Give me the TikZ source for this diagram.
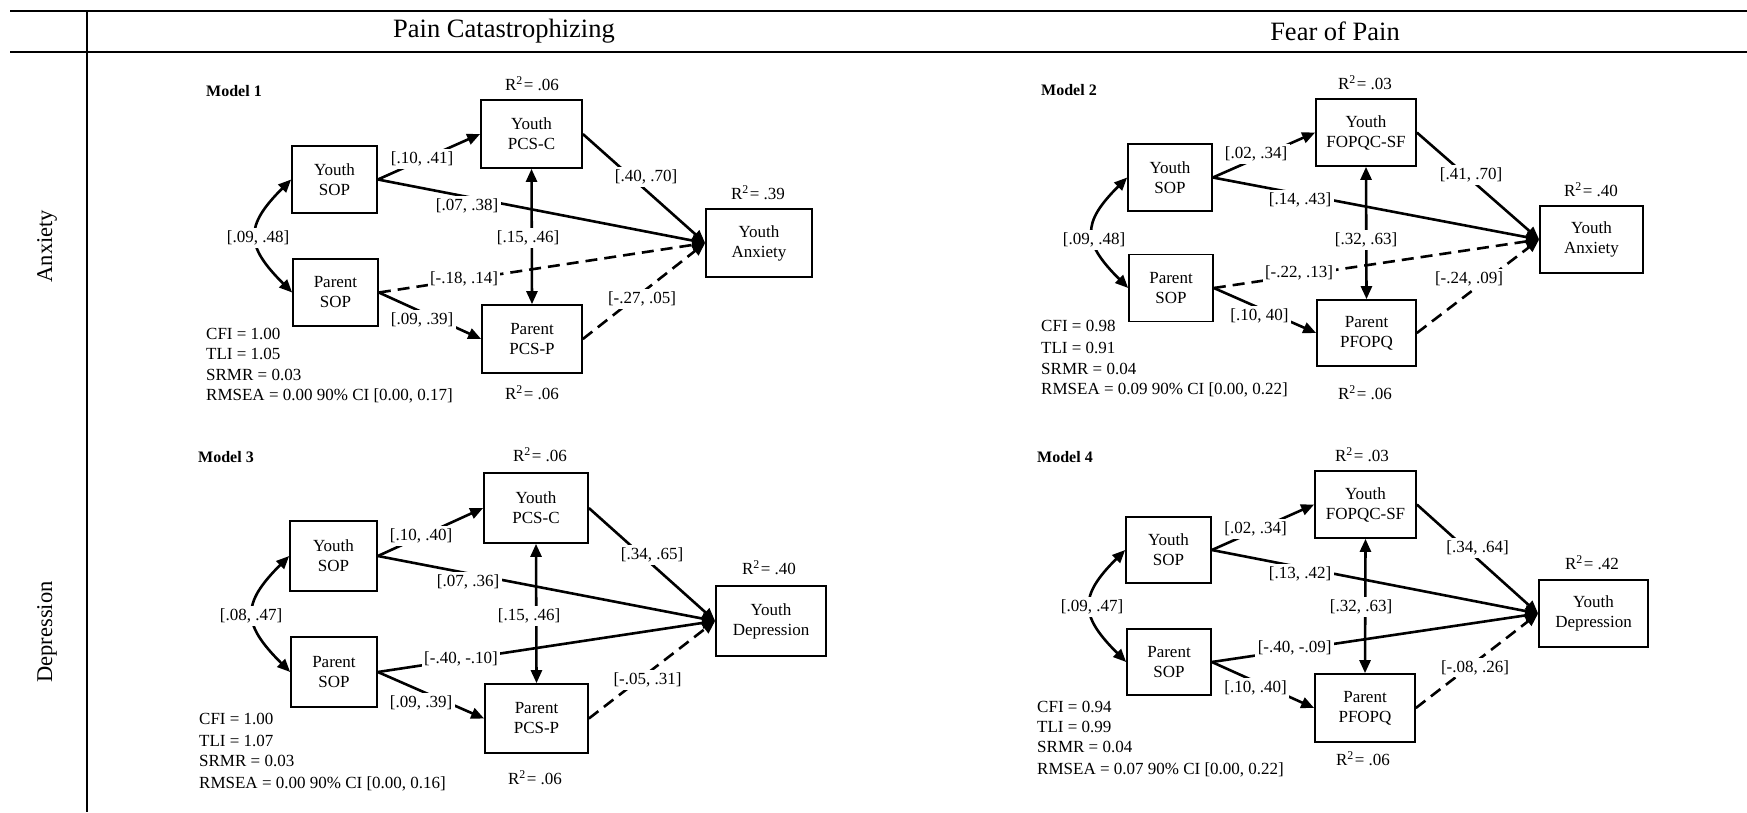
\documentclass[tikz,border=0pt]{standalone}
\usepackage{fontspec}
\setmainfont{Liberation Serif}
\usetikzlibrary{arrows.meta}
\begin{document}
\begin{tikzpicture}[x=1pt,y=1pt,
  bx/.style={draw, line width=1.7pt, align=center, inner sep=0pt, font=\fontsize{17}{20}\selectfont},
  lbl/.style={fill=white, inner sep=2.5pt, font=\fontsize{17}{20}\selectfont},
  rsq/.style={font=\fontsize{17}{20}\selectfont, inner sep=0pt},
  mdl/.style={font=\fontsize{16}{20}\selectfont\bfseries, anchor=west, inner sep=0pt},
  fitst/.style={font=\fontsize{17}{20}\selectfont, anchor=base west, inner sep=0pt},
  pth/.style={line width=2.6pt, -{Triangle[length=13pt,width=11pt]}},
  dbl/.style={line width=2.6pt, {Triangle[length=13pt,width=11pt]}-{Triangle[length=13pt,width=11pt]}},
  dsh/.style={pth, dash pattern=on 12pt off 7pt},
  hdr/.style={font=\fontsize{26.5}{30}\selectfont, inner sep=0pt},
  rowlab/.style={font=\fontsize{22.5}{26}\selectfont, inner sep=0pt, rotate=90},
  rule/.style={line width=2.6pt},
]
\useasboundingbox (0,0) rectangle (1747,-812);
% table frame
\draw[rule] (10,-11) -- (1747,-11);
\draw[rule] (10,-52) -- (1747,-52);
\draw[line width=1.8pt] (87,-11) -- (87,-812);
\node[hdr] (hpc) at (504,-31) {Pain Catastrophizing};
\node[hdr] (hfp) at (1335,-31) {Fear of Pain};
\node[rowlab] (ranx) at (47,-246) {Anxiety};
\node[rowlab] (rdep) at (47,-632) {Depression};

% ================= Model 1 =================
\node[mdl] (m1t) at (206,-91) {Model 1};
\node[bx, minimum width=85pt, minimum height=67pt] (m1ys) at (334.5,-179.5) {Youth\\SOP};
\node[bx, minimum width=85pt, minimum height=67pt] (m1ps) at (335.5,-292.5) {Parent\\SOP};
\node[bx, minimum width=101pt, minimum height=68pt] (m1yc) at (531.5,-134) {Youth\\PCS-C};
\node[bx, minimum width=100pt, minimum height=68pt] (m1pc) at (532,-339) {Parent\\PCS-P};
\node[bx, minimum width=106pt, minimum height=68pt] (m1out) at (759,-243) {Youth\\Anxiety};
\node[rsq] (m1r1) at (532,-84) {R\textsuperscript{2}\kern1pt= .06};
\node[rsq] (m1r2) at (758,-193) {R\textsuperscript{2}\kern1pt= .39};
\node[rsq] (m1r3) at (532,-393) {R\textsuperscript{2}\kern1pt= .06};
\draw[pth] (m1ys.east) -- (m1yc.west);
\draw[pth] (m1ys.east) -- (m1out.west);
\draw[pth] (m1yc.east) -- (m1out.west);
\draw[dsh] (m1ps.east) -- (m1out.west);
\draw[pth] (m1ps.east) -- (m1pc.west);
\draw[dsh] (m1pc.east) -- (m1out.west);
\draw[dbl] (m1pc.north) -- (m1yc.south);
\draw[dbl] (m1ys.west) to[out=225,in=135,looseness=1.5] (m1ps.west);
\node[lbl] (m1a) at (422,-159) {[.10, .41]};
\node[lbl] (m1b) at (467,-206) {[.07, .38]};
\node[lbl] (m1c) at (258,-238) {[.09, .48]};
\node[lbl] (m1d) at (528,-238) {[.15, .46]};
\node[lbl] (m1e) at (646,-177) {[.40, .70]};
\node[lbl] (m1f) at (464,-279) {[-.18, .14]};
\node[lbl] (m1g) at (422,-320) {[.09, .39]};
\node[lbl] (m1h) at (642,-299) {[-.27, .05]};
\node[fitst] (m1f1) at (206,-339) {CFI = 1.00};
\node[fitst] (m1f2) at (206,-359) {TLI = 1.05};
\node[fitst] (m1f3) at (206,-380) {SRMR = 0.03};
\node[fitst] (m1f4) at (206,-400) {RMSEA = 0.00 90\% CI [0.00, 0.17]};

% ================= Model 2 =================
\node[mdl] (m2t) at (1041,-90) {Model 2};
\node[bx, minimum width=84pt, minimum height=67pt] (m2ys) at (1170,-177.5) {Youth\\SOP};
\node[bx, minimum width=84pt, minimum height=67pt] (m2ps) at (1171,-288) {Parent\\SOP};
\node[bx, minimum width=100pt, minimum height=67pt] (m2yc) at (1366,-132.5) {Youth\\FOPQC-SF};
\node[bx, minimum width=99pt, minimum height=66pt] (m2pc) at (1366.5,-333) {Parent\\PFOPQ};
\node[bx, minimum width=103pt, minimum height=67pt] (m2out) at (1591.5,-239.5) {Youth\\Anxiety};
\node[rsq] (m2r1) at (1365,-83) {R\textsuperscript{2}\kern1pt= .03};
\node[rsq] (m2r2) at (1591,-190) {R\textsuperscript{2}\kern1pt= .40};
\node[rsq] (m2r3) at (1365,-393) {R\textsuperscript{2}\kern1pt= .06};
\draw[pth] (m2ys.east) -- (m2yc.west);
\draw[pth] (m2ys.east) -- (m2out.west);
\draw[pth] (m2yc.east) -- (m2out.west);
\draw[dsh] (m2ps.east) -- (m2out.west);
\draw[pth] (m2ps.east) -- (m2pc.west);
\draw[dsh] (m2pc.east) -- (m2out.west);
\draw[dbl] (m2pc.north) -- (m2yc.south);
\draw[dbl] (m2ys.west) to[out=225,in=135,looseness=1.5] (m2ps.west);
\node[lbl] (m2a) at (1256,-154) {[.02, .34]};
\node[lbl] (m2b) at (1300,-200) {[.14, .43]};
\node[lbl] (m2c) at (1094,-240) {[.09, .48]};
\node[lbl] (m2d) at (1366,-240) {[.32, .63]};
\node[lbl] (m2e) at (1471,-175) {[.41, .70]};
\node[lbl] (m2f) at (1299,-272.5) {[-.22, .13]};
\node[lbl] (m2g) at (1259.5,-315.5) {[.10, 40]};
\node[lbl] (m2h) at (1469,-279) {[-.24, .09]};
\node[fitst] (m2f1) at (1041,-331.5) {CFI = 0.98};
\node[fitst] (m2f2) at (1041,-353) {TLI = 0.91};
\node[fitst] (m2f3) at (1041,-374) {SRMR = 0.04};
\node[fitst] (m2f4) at (1041,-394.5) {RMSEA = 0.09 90\% CI [0.00, 0.22]};

% ================= Model 3 =================
\node[mdl] (m3t) at (198,-457) {Model 3};
\node[bx, minimum width=87pt, minimum height=70pt] (m3ys) at (333.5,-556) {Youth\\SOP};
\node[bx, minimum width=86pt, minimum height=70pt] (m3ps) at (334,-672) {Parent\\SOP};
\node[bx, minimum width=104pt, minimum height=70pt] (m3yc) at (536,-508) {Youth\\PCS-C};
\node[bx, minimum width=103pt, minimum height=69pt] (m3pc) at (536.5,-718.5) {Parent\\PCS-P};
\node[bx, minimum width=110pt, minimum height=70pt] (m3out) at (771,-621) {Youth\\Depression};
\node[rsq] (m3r1) at (540,-455) {R\textsuperscript{2}\kern1pt= .06};
\node[rsq] (m3r2) at (769,-568) {R\textsuperscript{2}\kern1pt= .40};
\node[rsq] (m3r3) at (535,-778) {R\textsuperscript{2}\kern1pt= .06};
\draw[pth] (m3ys.east) -- (m3yc.west);
\draw[pth] (m3ys.east) -- (m3out.west);
\draw[pth] (m3yc.east) -- (m3out.west);
\draw[pth] (m3ps.east) -- (m3out.west);
\draw[pth] (m3ps.east) -- (m3pc.west);
\draw[dsh] (m3pc.east) -- (m3out.west);
\draw[dbl] (m3pc.north) -- (m3yc.south);
\draw[dbl] (m3ys.west) to[out=225,in=135,looseness=1.5] (m3ps.west);
\node[lbl] (m3a) at (421,-536) {[.10, .40]};
\node[lbl] (m3b) at (468,-582) {[.07, .36]};
\node[lbl] (m3c) at (251,-616) {[.08, .47]};
\node[lbl] (m3d) at (529,-616) {[.15, .46]};
\node[lbl] (m3e) at (652,-555) {[.34, .65]};
\node[lbl] (m3f) at (461,-659) {[-.40, -.10]};
\node[lbl] (m3g) at (421,-703) {[.09, .39]};
\node[lbl] (m3h) at (647.5,-680) {[-.05, .31]};
\node[fitst] (m3f1) at (199,-724) {CFI = 1.00};
\node[fitst] (m3f2) at (199,-746) {TLI = 1.07};
\node[fitst] (m3f3) at (199,-766) {SRMR = 0.03};
\node[fitst] (m3f4) at (199,-788) {RMSEA = 0.00 90\% CI [0.00, 0.16]};

% ================= Model 4 =================
\node[mdl] (m4t) at (1037,-457) {Model 4};
\node[bx, minimum width=85pt, minimum height=66pt] (m4ys) at (1168.5,-550) {Youth\\SOP};
\node[bx, minimum width=84pt, minimum height=66pt] (m4ps) at (1169,-662) {Parent\\SOP};
\node[bx, minimum width=101pt, minimum height=67pt] (m4yc) at (1365.5,-504.5) {Youth\\FOPQC-SF};
\node[bx, minimum width=100pt, minimum height=68pt] (m4pc) at (1365,-708) {Parent\\PFOPQ};
\node[bx, minimum width=109pt, minimum height=67pt] (m4out) at (1593.5,-613.5) {Youth\\Depression};
\node[rsq] (m4r1) at (1362,-455) {R\textsuperscript{2}\kern1pt= .03};
\node[rsq] (m4r2) at (1592,-563) {R\textsuperscript{2}\kern1pt= .42};
\node[rsq] (m4r3) at (1363,-759) {R\textsuperscript{2}\kern1pt= .06};
\draw[pth] (m4ys.east) -- (m4yc.west);
\draw[pth] (m4ys.east) -- (m4out.west);
\draw[pth] (m4yc.east) -- (m4out.west);
\draw[pth] (m4ps.east) -- (m4out.west);
\draw[pth] (m4ps.east) -- (m4pc.west);
\draw[dsh] (m4pc.east) -- (m4out.west);
\draw[dbl] (m4pc.north) -- (m4yc.south);
\draw[dbl] (m4ys.west) to[out=225,in=135,looseness=1.5] (m4ps.west);
\node[lbl] (m4a) at (1255.5,-529) {[.02, .34]};
\node[lbl] (m4b) at (1300,-574) {[.13, .42]};
\node[lbl] (m4c) at (1092,-607) {[.09, .47]};
\node[lbl] (m4d) at (1361,-607) {[.32, .63]};
\node[lbl] (m4e) at (1477.6,-548) {[.34, .64]};
\node[lbl] (m4f) at (1294.6,-647.7) {[-.40, -.09]};
\node[lbl] (m4g) at (1255.5,-688) {[.10, .40]};
\node[lbl] (m4h) at (1475,-667.7) {[-.08, .26]};
\node[fitst] (m4f1) at (1037,-712) {CFI = 0.94};
\node[fitst] (m4f2) at (1037,-732) {TLI = 0.99};
\node[fitst] (m4f3) at (1037,-752) {SRMR = 0.04};
\node[fitst] (m4f4) at (1037,-774) {RMSEA = 0.07 90\% CI [0.00, 0.22]};
\end{tikzpicture}
\end{document}
